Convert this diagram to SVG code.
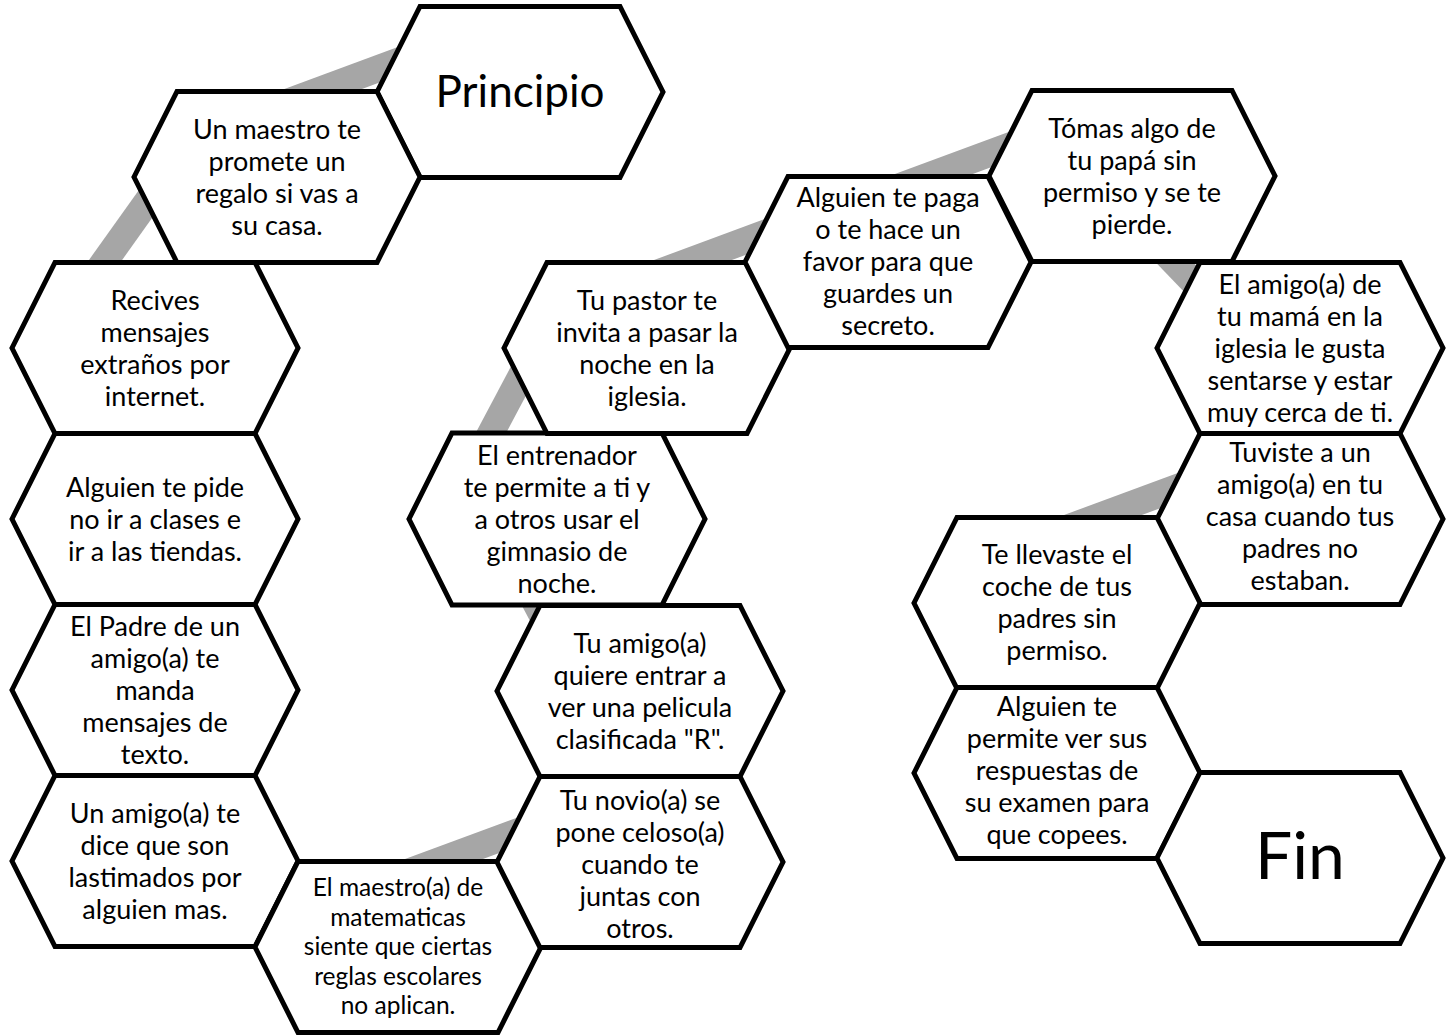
<svg xmlns="http://www.w3.org/2000/svg" xmlns:xlink="http://www.w3.org/1999/xlink" width="1452" height="1035" viewBox="0 0 1452 1035">
<defs>
<style>
.hex{fill:#fff;stroke:#000;stroke-width:5;stroke-linejoin:miter}
.t{font-family:Lato,"Liberation Sans",sans-serif;font-size:27px;fill:#000;text-anchor:middle}
.s{font-size:24.5px}
.c{stroke:#a6a6a6;stroke-width:27;fill:none;stroke-linecap:butt}
</style>
<polygon id="hex" class="hex" points="-143,0 -100,-85.5 100,-85.5 143,0 100,85.5 -100,85.5"/>
</defs>
<rect width="1452" height="1035" fill="#fff"/>
<g id="connectors">
<line class="c" x1="200" y1="134.5" x2="470" y2="34.6"/>
<line class="c" x1="77" y1="300" x2="184" y2="150"/>
<line class="c" x1="321" y1="904.5" x2="591" y2="804.6"/>
<line class="c" x1="513" y1="560" x2="566" y2="660"/>
<line class="c" x1="471.3" y1="470" x2="545.5" y2="330"/>
<line class="c" x1="570" y1="305.5" x2="840" y2="205.6"/>
<line class="c" x1="811" y1="219.5" x2="1081" y2="119.6"/>
<line class="c" x1="1133.7" y1="220" x2="1229.8" y2="320"/>
<line class="c" x1="980" y1="560.5" x2="1250" y2="460.6"/>
</g>
<g id="principio" transform="translate(520,92)"><use xlink:href="#hex"/><text class="t" style="font-size:44px" x="0" y="15">Principio</text></g>
<g id="n1" transform="translate(277,177)"><use xlink:href="#hex"/><text class="t"><tspan x="0" y="-38.5">Un maestro te</tspan><tspan x="0" y="-6.5">promete un</tspan><tspan x="0" y="25.5">regalo si vas a</tspan><tspan x="0" y="57.5">su casa.</tspan></text></g>
<g id="n2" transform="translate(155,348)"><use xlink:href="#hex"/><text class="t"><tspan x="0" y="-38.5">Recives</tspan><tspan x="0" y="-6.5">mensajes</tspan><tspan x="0" y="25.5">extraños por</tspan><tspan x="0" y="57.5">internet.</tspan></text></g>
<g id="n3" transform="translate(155,519)"><use xlink:href="#hex"/><text class="t"><tspan x="0" y="-22.5">Alguien te pide</tspan><tspan x="0" y="9.5">no ir a clases e</tspan><tspan x="0" y="41.5">ir a las tiendas.</tspan></text></g>
<g id="n4" transform="translate(155,690)"><use xlink:href="#hex"/><text class="t"><tspan x="0" y="-54.5">El Padre de un</tspan><tspan x="0" y="-22.5">amigo(a) te</tspan><tspan x="0" y="9.5">manda</tspan><tspan x="0" y="41.5">mensajes de</tspan><tspan x="0" y="73.5">texto.</tspan></text></g>
<g id="n5" transform="translate(155,861)"><use xlink:href="#hex"/><text class="t"><tspan x="0" y="-38.5">Un amigo(a) te</tspan><tspan x="0" y="-6.5">dice que son</tspan><tspan x="0" y="25.5">lastimados por</tspan><tspan x="0" y="57.5">alguien mas.</tspan></text></g>
<g id="n6" transform="translate(398,947)"><use xlink:href="#hex"/><text class="t s"><tspan x="0" y="-51">El maestro(a) de</tspan><tspan x="0" y="-21.5">matematicas</tspan><tspan x="0" y="8">siente que ciertas</tspan><tspan x="0" y="37.5">reglas escolares</tspan><tspan x="0" y="67">no aplican.</tspan></text></g>
<g id="n7" transform="translate(640,862)"><use xlink:href="#hex"/><text class="t"><tspan x="0" y="-52.5">Tu novio(a) se</tspan><tspan x="0" y="-20.5">pone celoso(a)</tspan><tspan x="0" y="11.5">cuando te</tspan><tspan x="0" y="43.5">juntas con</tspan><tspan x="0" y="75.5">otros.</tspan></text></g>
<g id="n8" transform="translate(640,691)"><use xlink:href="#hex"/><text class="t"><tspan x="0" y="-38.5">Tu amigo(a)</tspan><tspan x="0" y="-6.5">quiere entrar a</tspan><tspan x="0" y="25.5">ver una pelicula</tspan><tspan x="0" y="57.5">clasificada "R".</tspan></text></g>
<g id="n9" transform="translate(557,519)"><polygon class="hex" points="-148,0 -105,-86 105,-86 148,0 105,86 -105,86"/><text class="t"><tspan x="0" y="-54.5">El entrenador</tspan><tspan x="0" y="-22.5">te permite a ti y</tspan><tspan x="0" y="9.5">a otros usar el</tspan><tspan x="0" y="41.5">gimnasio de</tspan><tspan x="0" y="73.5">noche.</tspan></text></g>
<g id="n10" transform="translate(647,348)"><use xlink:href="#hex"/><text class="t"><tspan x="0" y="-38.5">Tu pastor te</tspan><tspan x="0" y="-6.5">invita a pasar la</tspan><tspan x="0" y="25.5">noche en la</tspan><tspan x="0" y="57.5">iglesia.</tspan></text></g>
<g id="n11" transform="translate(888,262)"><use xlink:href="#hex"/><text class="t"><tspan x="0" y="-55.5">Alguien te paga</tspan><tspan x="0" y="-23.5">o te hace un</tspan><tspan x="0" y="8.5">favor para que</tspan><tspan x="0" y="40.5">guardes un</tspan><tspan x="0" y="72.5">secreto.</tspan></text></g>
<g id="n12" transform="translate(1132,176)"><use xlink:href="#hex"/><text class="t"><tspan x="0" y="-38.5">Tómas algo de</tspan><tspan x="0" y="-6.5">tu papá sin</tspan><tspan x="0" y="25.5">permiso y se te</tspan><tspan x="0" y="57.5">pierde.</tspan></text></g>
<g id="n13" transform="translate(1300,348)"><use xlink:href="#hex"/><text class="t"><tspan x="0" y="-54.5">El amigo(a) de</tspan><tspan x="0" y="-22.5">tu mamá en la</tspan><tspan x="0" y="9.5">iglesia le gusta</tspan><tspan x="0" y="41.5">sentarse y estar</tspan><tspan x="0" y="73.5">muy cerca de ti.</tspan></text></g>
<g id="n14" transform="translate(1300,519)"><use xlink:href="#hex"/><text class="t"><tspan x="0" y="-57.5">Tuviste a un</tspan><tspan x="0" y="-25.5">amigo(a) en tu</tspan><tspan x="0" y="6.5">casa cuando tus</tspan><tspan x="0" y="38.5">padres no</tspan><tspan x="0" y="70.5">estaban.</tspan></text></g>
<g id="n15" transform="translate(1057,603)"><use xlink:href="#hex"/><text class="t"><tspan x="0" y="-39.5">Te llevaste el</tspan><tspan x="0" y="-7.5">coche de tus</tspan><tspan x="0" y="24.5">padres sin</tspan><tspan x="0" y="56.5">permiso.</tspan></text></g>
<g id="n16" transform="translate(1057,773)"><use xlink:href="#hex"/><text class="t"><tspan x="0" y="-57.5">Alguien te</tspan><tspan x="0" y="-25.5">permite ver sus</tspan><tspan x="0" y="6.5">respuestas de</tspan><tspan x="0" y="38.5">su examen para</tspan><tspan x="0" y="70.5">que copees.</tspan></text></g>
<g id="fin" transform="translate(1300,858)"><use xlink:href="#hex"/><text class="t" style="font-size:66px" x="0" y="21">Fin</text></g>
</svg>
